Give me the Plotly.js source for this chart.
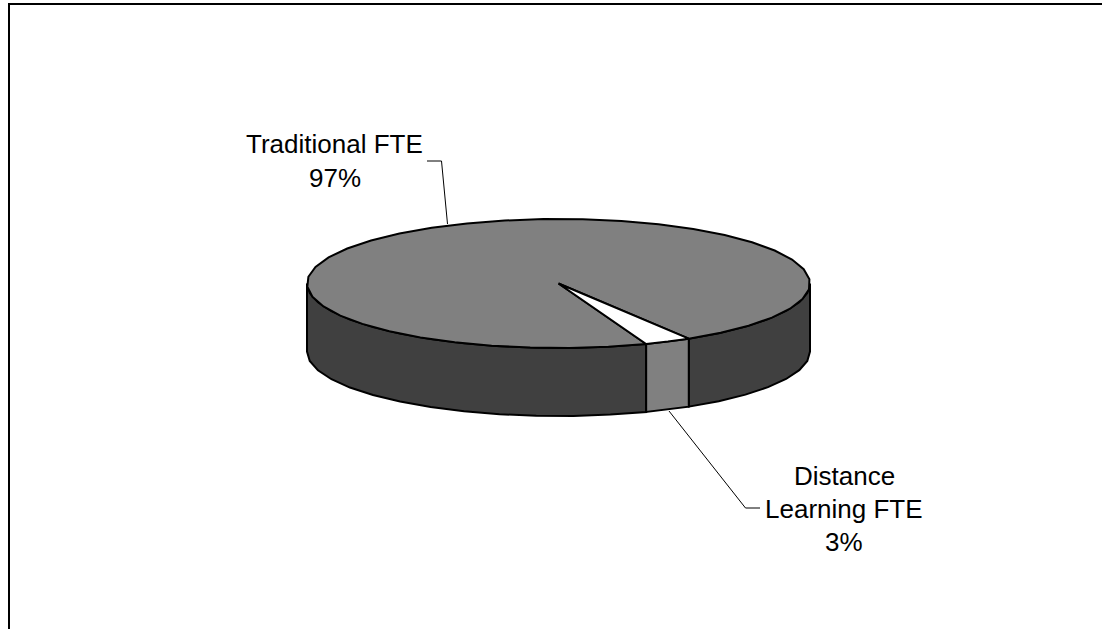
<!DOCTYPE html>
<html>
<head>
<meta charset="utf-8">
<script src="https://cdn.plot.ly/plotly-3.0.1.min.js"></script>
<style>html,body{margin:0;padding:0;background:#fff}#chart{width:1102px;height:629px}</style>
</head>
<body>
<div id="chart"></div>
<script>
const categories = ['Traditional FTE', 'Distance Learning FTE'];
const values = [97, 3];
const labelLines = [['Traditional FTE'], ['Distance', 'Learning FTE']];
const topColors = ['#808080', '#ffffff'];
const sideColors = ['#404040', '#808080'];

const cx = 558.5, cy = 283.5, rx = 251.5, ry = 64.5, depth = 68;
const startDeg = 58.8, stepDeg = 9;
const total = values.reduce((a, b) => a + b, 0);
const share = values.map(v => v / total);

function pt(deg, drop) {
  const t = deg * Math.PI / 180;
  return [cx + rx * Math.cos(t), cy + ry * Math.sin(t) + (drop || 0)];
}
function arc(a, b, drop) {
  const out = [];
  const n = Math.max(1, Math.ceil(Math.abs(b - a) / stepDeg));
  for (let i = 0; i <= n; i++) out.push(pt(a + (b - a) * i / n, drop));
  return out;
}
function poly(points, color) {
  const closed = points.concat([points[0]]);
  return {
    type: 'scatter', mode: 'lines', fill: 'toself', fillcolor: color,
    x: closed.map(p => p[0]), y: closed.map(p => p[1]),
    line: {color: '#000000', width: 2, shape: 'linear'},
    hoverinfo: 'skip', showlegend: false
  };
}
// slices: index 1 (distance learning) begins at startDeg going clockwise; index 0 takes the rest
const a1Start = startDeg, a1End = startDeg + share[1] * 360;
const a0Start = a1End, a0End = startDeg + 360;

const traces = [];
// side wall of the large slice (front half only)
traces.push(poly(arc(a1End, 180, 0).concat(arc(180, a1End, depth)), sideColors[0]));
traces.push(poly(arc(0, a1Start, 0).concat(arc(a1Start, 0, depth)), sideColors[0]));
// side wall of the small slice
traces.push(poly(arc(a1Start, a1End, 0).concat(arc(a1End, a1Start, depth)), sideColors[1]));
// tops
traces.push(poly([[cx, cy]].concat(arc(a0Start, a0End, 0)), topColors[0]));
traces.push(poly([[cx, cy]].concat(arc(a1Start, a1End, 0)), topColors[1]));

const font = {family: 'Liberation Sans, Arial, sans-serif', size: 26, color: '#000000'};
function label(text, x, y) {
  return {text: text, x: x, y: y, xref: 'x', yref: 'y', showarrow: false,
          font: font, xanchor: 'center', yanchor: 'middle'};
}
const pct = values.map(v => Math.round(v / total * 100) + '%');
const annotations = [
  label(labelLines[0][0], 334.5, 144),
  label(pct[0], 334.5, 178),
  label(labelLines[1][0], 844, 476),
  label(labelLines[1][1], 844, 508.5),
  label(pct[1], 844, 542)
];
function leader(pts) {
  return {type: 'path', xref: 'x', yref: 'y',
          path: 'M' + pts.map(p => p.join(',')).join('L'),
          line: {color: '#000000', width: 1}};
}
const shapes = [
  leader([[427, 161], [441.5, 161], [447.5, 224]]),
  leader([[669, 411], [745.5, 508], [760, 508]]),
  {type: 'path', xref: 'x', yref: 'y', path: 'M9,629L9,4L1102,4',
   line: {color: '#000000', width: 2}}
];
const layout = {
  width: 1102, height: 629,
  margin: {l: 0, r: 0, t: 0, b: 0},
  paper_bgcolor: '#ffffff', plot_bgcolor: '#ffffff',
  showlegend: false,
  xaxis: {range: [0, 1102], visible: false, fixedrange: true},
  yaxis: {range: [629, 0], visible: false, fixedrange: true},
  annotations: annotations, shapes: shapes
};
Plotly.newPlot('chart', traces, layout, {displayModeBar: false, staticPlot: true});
</script>
</body>
</html>
